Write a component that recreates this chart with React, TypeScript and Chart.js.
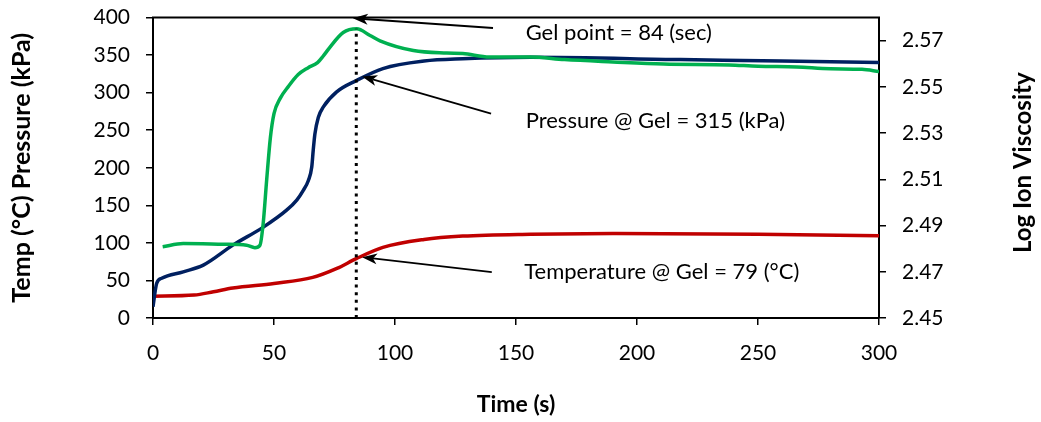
import { useEffect, useRef } from 'react';
import { Chart, registerables } from 'chart.js';

Chart.register(...registerables);

const FONT = 'Lato, "Open Sans", sans-serif';

// Time ticks / axis ranges
const TIME_TICKS = [0, 50, 100, 150, 200, 250, 300];
const LEFT_TICKS = [0, 50, 100, 150, 200, 250, 300, 350, 400];
const VISC_TICKS = [2.45, 2.47, 2.49, 2.51, 2.53, 2.55, 2.57];

// Pressure (kPa)
const PRESSURE_T = [0, 1.5, 3.6, 12.5, 20.8, 33, 45.6, 55.2, 59.4, 62.1, 64.2, 65.6, 66.2, 66.9, 68.3, 70.4, 75.9, 84, 95, 112, 128, 156, 218, 260, 300];
const PRESSURE_KPA = [15, 46, 53, 61.5, 70.4, 97, 121, 143.5, 157, 170, 183, 201, 223, 245, 267, 281, 301, 316, 332, 342, 345, 347, 344, 342, 340];

// Temperature (°C)
const TEMP_T = [0, 17, 25, 33, 50, 66, 76, 84, 95, 112, 128, 156, 190, 250, 300];
const TEMP_C = [29, 30.5, 35, 40, 46, 54, 66, 79, 94, 104.5, 109, 111.5, 112.5, 111.6, 109.5];

// Log ion viscosity
const VISC_T = [4, 12.5, 29, 38.7, 42.1, 44.2, 45.5, 47, 48.5, 50, 52.5, 55.9, 60, 64, 68, 70.4, 73, 78.6, 84.2, 89.7, 93.8, 107.6, 121.4, 128, 139, 156, 170, 190, 211, 238, 250, 266, 280, 293, 300];
const VISC_LOG = [2.4808, 2.4822, 2.4819, 2.4815, 2.4804, 2.4815, 2.4906, 2.5101, 2.528, 2.5384, 2.5449, 2.5501, 2.5553, 2.5582, 2.5605, 2.5634, 2.567, 2.5735, 2.5751, 2.5722, 2.5699, 2.5657, 2.5646, 2.5644, 2.5629, 2.5629, 2.5618, 2.5608, 2.5599, 2.5595, 2.5589, 2.5586, 2.5578, 2.5576, 2.5566];

// Gel point marker
const GEL_T = [84, 84];
const GEL_Y = [0, 385];

// Annotations (data units: time, left axis)
const NOTE_TEXTS = ['Gel point = 84 (sec)', 'Pressure @ Gel = 315 (kPa)', 'Temperature @ Gel = 79 (°C)'];
const NOTE_AT = [[154, 380], [154, 262], [153.4, 61]];
const ARROW_TAILS = [[140.5, 386], [139.7, 272], [140, 61]];
const ARROW_TIPS = [[82.6, 399], [86.4, 321.6], [86.4, 81]];

const zip = (xs: number[], ys: number[]) => xs.map((x, i) => ({ x, y: ys[i] }));

function drawArrow(ctx: CanvasRenderingContext2D, x1: number, y1: number, x2: number, y2: number) {
  const ang = Math.atan2(y2 - y1, x2 - x1);
  const len = 15;
  const hw = 5.5;
  const notch = 4;
  const bx = x2 - Math.cos(ang) * len;
  const by = y2 - Math.sin(ang) * len;
  const nx = x2 - Math.cos(ang) * (len - notch);
  const ny = y2 - Math.sin(ang) * (len - notch);
  ctx.beginPath();
  ctx.moveTo(x1, y1);
  ctx.lineTo(nx, ny);
  ctx.strokeStyle = '#000';
  ctx.lineWidth = 1.8;
  ctx.stroke();
  ctx.beginPath();
  ctx.moveTo(x2, y2);
  ctx.lineTo(bx - Math.sin(ang) * hw, by + Math.cos(ang) * hw);
  ctx.lineTo(nx, ny);
  ctx.lineTo(bx + Math.sin(ang) * hw, by - Math.cos(ang) * hw);
  ctx.closePath();
  ctx.fillStyle = '#000';
  ctx.fill();
}

const decorPlugin = {
  id: 'decor',
  afterDatasetsDraw(chart: any) {
    const { ctx, chartArea, scales } = chart;
    const xs = scales.x;
    const ys = scales.y;
    ctx.save();
    // top frame line
    ctx.beginPath();
    ctx.moveTo(chartArea.left - 1, chartArea.top);
    ctx.lineTo(chartArea.right + 1, chartArea.top);
    ctx.strokeStyle = '#000';
    ctx.lineWidth = 2;
    ctx.stroke();

    // arrows
    for (let i = 0; i < ARROW_TAILS.length; i++) {
      drawArrow(
        ctx,
        xs.getPixelForValue(ARROW_TAILS[i][0]),
        ys.getPixelForValue(ARROW_TAILS[i][1]),
        xs.getPixelForValue(ARROW_TIPS[i][0]),
        ys.getPixelForValue(ARROW_TIPS[i][1])
      );
    }
    // notes
    ctx.fillStyle = '#000';
    ctx.font = `22px ${FONT}`;
    ctx.textAlign = 'left';
    ctx.textBaseline = 'middle';
    for (let i = 0; i < NOTE_TEXTS.length; i++) {
      ctx.fillText(NOTE_TEXTS[i], xs.getPixelForValue(NOTE_AT[i][0]), ys.getPixelForValue(NOTE_AT[i][1]));
    }

    // axis titles
    ctx.textAlign = 'center';
    ctx.textBaseline = 'middle';
    ctx.font = `bold 23px ${FONT}`;
    ctx.fillText('Time (s)', (chartArea.left + chartArea.right) / 2, 405);
    const midY = (chartArea.top + chartArea.bottom) / 2;
    ctx.font = `bold 25px ${FONT}`;
    ctx.save();
    ctx.translate(22, midY);
    ctx.rotate(-Math.PI / 2);
    ctx.fillText('Temp (°C) Pressure (kPa)', 0, 0);
    ctx.restore();
    ctx.font = `bold 24px ${FONT}`;
    ctx.save();
    ctx.translate(1023, midY - 5);
    ctx.rotate(-Math.PI / 2);
    ctx.fillText('Log Ion Viscosity', 0, 0);
    ctx.restore();
    ctx.restore();
  },
};

export default function App() {
  const ref = useRef<HTMLCanvasElement | null>(null);

  useEffect(() => {
    document.body.style.margin = '0';
    if (!ref.current) return;
    const tickFont = { family: FONT, size: 21 };
    const grid = { drawOnChartArea: false, drawTicks: true, tickLength: 7, color: '#000', lineWidth: 1.5 };
    const border = { display: true, color: '#000', width: 2 };
    const chart = new Chart(ref.current, {
      type: 'line',
      data: {
        datasets: [
          {
            label: 'Gel',
            data: zip(GEL_T, GEL_Y),
            yAxisID: 'y',
            borderColor: '#000',
            borderWidth: 3,
            borderDash: [3, 4.6],
            pointRadius: 0,
            order: 0,
          },
          {
            label: 'Log Ion Viscosity',
            data: zip(VISC_T, VISC_LOG),
            yAxisID: 'y2',
            borderColor: '#00B050',
            borderWidth: 3.5,
            cubicInterpolationMode: 'monotone',
            pointRadius: 0,
            order: 1,
          },
          {
            label: 'Pressure',
            data: zip(PRESSURE_T, PRESSURE_KPA),
            yAxisID: 'y',
            borderColor: '#002060',
            borderWidth: 3.5,
            cubicInterpolationMode: 'monotone',
            pointRadius: 0,
            order: 2,
          },
          {
            label: 'Temperature',
            data: zip(TEMP_T, TEMP_C),
            yAxisID: 'y',
            borderColor: '#C00000',
            borderWidth: 3.5,
            cubicInterpolationMode: 'monotone',
            pointRadius: 0,
            order: 3,
          },
        ],
      },
      options: {
        animation: false,
        responsive: false,
        maintainAspectRatio: false,
        layout: { padding: { top: 17.5, left: 0, right: 0, bottom: 0 } },
        plugins: { legend: { display: false }, tooltip: { enabled: false } },
        elements: { point: { radius: 0 }, line: { fill: false } },
        scales: {
          x: {
            type: 'linear',
            min: 0,
            max: 300,
            afterBuildTicks: (s: any) => { s.ticks = TIME_TICKS.map((v) => ({ value: v })); },
            ticks: { color: '#000', font: tickFont, padding: 16, maxRotation: 0 },
            grid,
            border,
            afterFit: (s: any) => { s.height = 104; s.paddingLeft = 0; s.paddingRight = 0; },
          },
          y: {
            type: 'linear',
            position: 'left',
            min: 0,
            max: 400,
            afterBuildTicks: (s: any) => { s.ticks = LEFT_TICKS.map((v) => ({ value: v })); },
            ticks: { color: '#000', font: tickFont, padding: 16 },
            grid,
            border,
            afterFit: (s: any) => { s.width = 153; s.paddingTop = 0; s.paddingBottom = 0; },
          },
          y2: {
            type: 'linear',
            position: 'right',
            min: 2.45,
            max: 2.58,
            afterBuildTicks: (s: any) => { s.ticks = VISC_TICKS.map((v) => ({ value: v })); },
            ticks: { color: '#000', font: tickFont, padding: 16, callback: (v: any) => Number(v).toFixed(2) },
            grid,
            border,
            afterFit: (s: any) => { s.width = 162; s.paddingTop = 0; s.paddingBottom = 0; },
          },
        },
      },
      plugins: [decorPlugin],
    } as any);
    return () => chart.destroy();
  }, []);

  return (
    <div style={{ width: 1041, height: 422 }}>
      <canvas ref={ref} width={1041} height={422} style={{ display: 'block', width: 1041, height: 422 }} />
    </div>
  );
}
